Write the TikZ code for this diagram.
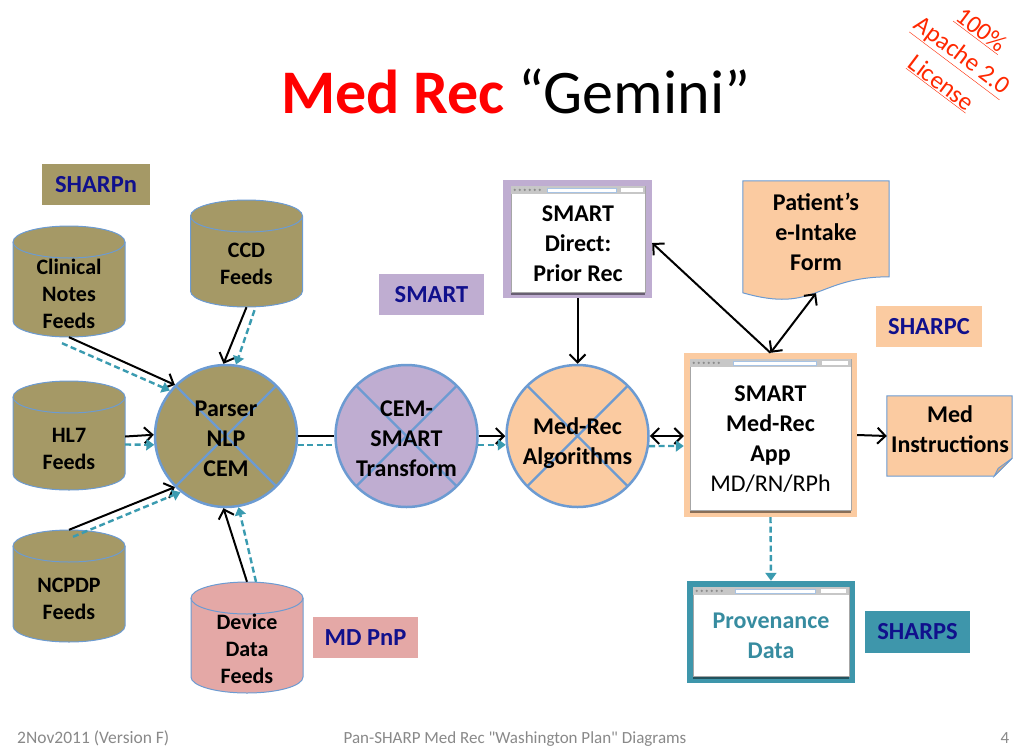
\documentclass[tikz,border=0pt]{standalone}
\usepackage{fontspec}
\setmainfont{Carlito}
\newfontfamily\plainfont{Carlito}
\usetikzlibrary{arrows.meta,calc,shadows}
\definecolor{cOlive}{RGB}{165,153,102}
\definecolor{cBlue}{RGB}{108,155,210}
\definecolor{cLav}{RGB}{191,173,209}
\definecolor{cPeach}{RGB}{251,203,161}
\definecolor{cFold}{RGB}{220,170,128}
\definecolor{cPink}{RGB}{228,168,166}
\definecolor{cTeal}{RGB}{62,150,171}
\definecolor{cNavy}{RGB}{16,16,140}
\definecolor{cDash}{RGB}{58,155,176}
\definecolor{cRed}{RGB}{255,0,0}
\definecolor{cStamp}{RGB}{255,40,0}
\definecolor{cProv}{RGB}{55,140,160}
\definecolor{cFoot}{RGB}{137,137,137}

\newcommand\cylinder[5]{% name, cx, top, bottom, fill
  \filldraw[cyl, fill=#5] (#2-56,-#3-16) -- (#2-56,-#4+16)
     arc[start angle=180, end angle=360, x radius=56, y radius=16]
     -- (#2+56,-#3-16)
     arc[start angle=0, end angle=180, x radius=56, y radius=16] -- cycle;
  \draw[cyl] (#2-56,-#3-16) arc[start angle=180, end angle=360, x radius=56, y radius=16];
  \node[inner sep=0, minimum width=112, minimum height={#4-#3}] (#1) at (#2,{-(#3+#4)/2}) {};
}
\newcommand\chrome[1]{%
  \fill[black!22] (#1.north west) rectangle ($(#1.north east)+(0,-8)$);
  \fill[white] ($(#1.north west)!0.27!(#1.north east)+(0,-2.5)$) rectangle ($(#1.north west)!0.78!(#1.north east)+(0,-6)$);
  \draw[cBlue!60,line width=0.3pt] ($(#1.north west)!0.27!(#1.north east)+(0,-2.5)$) rectangle ($(#1.north west)!0.78!(#1.north east)+(0,-6)$);
  \fill[white] ($(#1.north west)!0.82!(#1.north east)+(0,-2.5)$) rectangle ($(#1.north west)!0.98!(#1.north east)+(0,-6)$);
  \foreach \i in {0,...,5}{\fill[black!45] ($(#1.north west)+(4+5*\i,-4.2)$) circle[radius=1.3];}
}

\begin{document}
\begin{tikzpicture}[x=1pt,y=1pt,
  cyl/.style={draw=cBlue, line width=1pt},
  cyltxt/.style={align=center, font=\fontsize{22}{27}\selectfont\bfseries, inner sep=0},
  bodytxt/.style={align=center, font=\fontsize{24}{30}\selectfont\bfseries, inner sep=0},
  tag/.style={minimum width=105, minimum height=41, inner sep=0, text=cNavy, font=\fontsize{24.5}{28}\selectfont\bfseries},
  stamptxt/.style={rotate=-37, text=cStamp, font=\fontsize{25}{30}\selectfont, inner sep=0},
  circ/.style={circle, minimum size=142, inner sep=0, draw=cBlue, line width=2.5pt,
     path picture={\draw[cBlue, line width=2.2pt]
       (path picture bounding box.north west) -- (path picture bounding box.south east)
       (path picture bounding box.south west) -- (path picture bounding box.north east);}},
  frame/.style={inner sep=0},
  win/.style={inner sep=0, fill=white, draw=black!35, line width=0.6pt,
     drop shadow={shadow xshift=0pt, shadow yshift=-2.5pt, opacity=0.45, fill=black}},
  blk/.style={draw=black, line width=2pt, -{Straight Barb[length=8pt,width=16pt]}},
  blkdbl/.style={draw=black, line width=2pt, {Straight Barb[length=8pt,width=16pt]}-{Straight Barb[length=8pt,width=16pt]}},
  blkplain/.style={draw=black, line width=2pt},
  dsh/.style={draw=cDash, line width=2.4pt, dash pattern=on 6pt off 3.5pt, -{Triangle[length=8pt,width=11pt]}},
  dshplain/.style={draw=cDash, line width=2.4pt, dash pattern=on 6pt off 3.5pt}
]
\useasboundingbox (0,0) rectangle (1014,-747);
\fill[white] (0,0) rectangle (1014,-747);

% title
\node[anchor=base, font=\fontsize{62}{74}\selectfont, inner sep=0] (title) at (516,-113)
  {\textcolor{cRed}{\bfseries Med Rec} “Gemini”};

% stamp (three rotated lines, spaced along the perpendicular)
\node[stamptxt] (stamp1) at ($(961,-57)+(0.6*33,0.8*33)$) {\underline{100\%}};
\node[stamptxt] (stamp2) at (961,-57) {\underline{Apache 2.0}};
\node[stamptxt] (stamp3) at ($(961,-57)+(-0.6*33,-0.8*33)$) {\underline{License}};

% tags
\node[tag, fill=cOlive, minimum width=108] (tagn) at (96,-184.5) {SHARPn};
\node[tag, fill=cLav] (tagsmart) at (431.5,-294.5) {SMART};
\node[tag, fill=cPink] (tagpnp) at (365.5,-637.5) {MD PnP};
\node[tag, fill=cPeach, minimum width=106] (tagc) at (929,-326.5) {SHARPC};
\node[tag, fill=cTeal, minimum height=42] (tags) at (917.5,-632) {SHARPS};

% cylinders
\cylinder{clin}{69}{226}{337}{cOlive}
\node[cyltxt] (clinT) at (69,-294) {Clinical\\Notes\\Feeds};
\cylinder{ccd}{246.5}{200}{307}{cOlive}
\node[cyltxt] (ccdT) at (246.5,-264) {CCD\\Feeds};
\cylinder{hl7}{69}{381}{490}{cOlive}
\node[cyltxt] (hl7T) at (69,-449) {HL7\\Feeds};
\cylinder{ncpdp}{69}{530}{642}{cOlive}
\node[cyltxt] (ncpdpT) at (69,-599) {NCPDP\\Feeds};
\cylinder{device}{247}{582}{693}{cPink}
\node[cyltxt] (deviceT) at (247,-649) {Device\\Data\\Feeds};

% circles
\node[circ, fill=cOlive] (parser) at (226,-436) {};
\node[bodytxt] (parserT) at (226,-439) {Parser\\NLP\\CEM};
\node[circ, fill=cLav] (cem) at (406.5,-436) {};
\node[bodytxt] (cemT) at (406.5,-439) {CEM-\\SMART\\Transform};
\node[circ, fill=cPeach] (medrec) at (577.5,-436) {};
\node[bodytxt] (medrecT) at (577.5,-443) {Med-Rec\\Algorithms};

% SMART Direct window
\node[frame, fill=cLav, minimum width=149, minimum height=118] (directO) at (577.5,-239) {};
\node[win, minimum width=134, minimum height=106] (directW) at (578,-239) {};
\chrome{directW}
\node[bodytxt] (directT) at (578,-244) {SMART\\Direct:\\Prior Rec};

% SMART Med-Rec App window
\node[frame, fill=cPeach, minimum width=173, minimum height=164] (appO) at (770.5,-435) {};
\node[win, minimum width=161, minimum height=151] (appW) at (770.5,-434.5) {};
\chrome{appW}
\node[bodytxt] (appT) at (770.5,-439) {SMART\\Med-Rec\\App\\\mdseries MD/RN/RPh};

% Provenance window
\node[frame, fill=cTeal, minimum width=168, minimum height=102] (provO) at (771,-632) {};
\node[win, minimum width=156, minimum height=89] (provW) at (771,-631.5) {};
\chrome{provW}
\node[bodytxt, text=cProv] (provT) at (771,-636) {Provenance\\Data};

% Patient's e-Intake form (document shape)
\node[inner sep=0, minimum width=146, minimum height=120] (intake) at (816,-241) {};
\filldraw[fill=cPeach, draw=cBlue, line width=1pt]
  (intake.north west) -- (intake.north east) -- ($(intake.north east)+(0,-96)$)
  .. controls ($(intake.north)+(0,-96)$) and ($(intake.north)+(0,-133)$) .. ($(intake.north west)+(0,-112)$) -- cycle;
\node[bodytxt] (intakeT) at (816,-232) {Patient’s\\e-Intake\\Form};

% Med Instructions (folded corner)
\node[inner sep=0, minimum width=125, minimum height=80] (medins) at (949.5,-436) {};
\filldraw[fill=cPeach, draw=cBlue, line width=1pt]
  (medins.north west) -- (medins.north east) -- ($(medins.south east)+(0,18)$)
  -- ($(medins.south east)+(-18,0)$) -- (medins.south west) -- cycle;
\filldraw[fill=cFold, draw=cBlue, line width=0.8pt]
  ($(medins.south east)+(0,18)$) -- ($(medins.south east)+(-14,8)$) -- ($(medins.south east)+(-18,0)$) -- cycle;
\node[bodytxt] (medinsT) at (950,-429) {Med\\Instructions};

% connectors into parser
\draw[blk] (clin.south) -- (parser.135);
\draw[dsh] ($(clin.south)+(-7,-6)$) -- (parser.141);
\draw[blk] (ccd.south) -- (parser.92);
\draw[dsh] ($(ccd.south)+(8,-3)$) -- (parser.82);
\draw[blk] ($(hl7.east)+(0,-1)$) -- (parser.179);
\draw[dsh] ($(hl7.east)+(0,-9)$) -- (parser.187);
\draw[blk] (ncpdp.north) -- (parser.225);
\draw[dsh] ($(ncpdp.north)+(4,-7)$) -- (parser.231);
\draw[blk] (device.north) -- (parser.268);
\draw[dsh] ($(device.north)+(9,0)$) -- (parser.280);

% main flow
\draw[blkplain] (parser.0) -- (cem.180);
\draw[dshplain] (parser.353) -- (cem.187);
\draw[blk] (cem.0) -- (medrec.180);
\draw[dsh] (cem.353) -- (medrec.187);
\draw[blkdbl] (medrec.0) -- ($(appO.west)+(0,-1)$);
\draw[dsh] (medrec.352) -- ($(appO.west)+(0,-11)$);
\draw[blk] (directO.south) -- (medrec.north);
\draw[blk] (appO.north) -- ($(directO.east)+(0,-4)$);
\draw[blkdbl] (appO.north) -- ($(intake.south)+(0,8)$);
\draw[blk] (appO.east) -- (medins.west);
\draw[dsh] (appO.south) -- (provO.north);

% footer
\node[anchor=base west, font=\plainfont\fontsize{17.5}{20}\selectfont, text=cFoot, inner sep=0] (foot1) at (17,-743) {2Nov2011 (Version F)};
\node[anchor=base, font=\plainfont\fontsize{17}{20}\selectfont, text=cFoot, inner sep=0] (foot2) at (515,-743) {Pan-SHARP Med Rec "Washington Plan" Diagrams};
\node[anchor=base, font=\plainfont\fontsize{17}{20}\selectfont, text=cFoot, inner sep=0] (foot3) at (1005,-743) {4};
\end{tikzpicture}
\end{document}
